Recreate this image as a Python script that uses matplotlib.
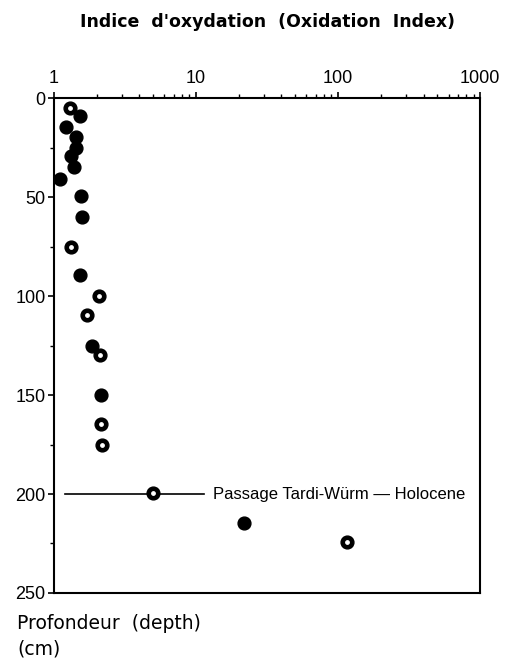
import matplotlib.pyplot as plt
from matplotlib.ticker import FixedLocator, LogLocator, NullFormatter

# oxidation index vs depth (cm)
solid_x = [1.54, 1.21, 1.44, 1.44, 1.31, 1.39, 1.11, 1.56, 1.57, 1.52, 1.85, 2.14, 21.8]
solid_depth = [9, 14.5, 19.5, 25, 29, 35, 41, 49.5, 60, 89.5, 125, 150, 214.8]
open_x = [1.30, 1.31, 2.08, 1.71, 2.11, 2.13, 2.20, 5.0, 115]
open_depth = [5, 75, 100, 109.6, 129.6, 164.6, 175, 199.6, 224]

boundary_depth = 200
boundary_x = [1.19, 11.4]
boundary_label = "Passage Tardi-Würm — Holocene"

xticks = [1, 10, 100, 1000]
yticks = [0, 50, 100, 150, 200, 250]

plt.rcParams['font.family'] = ['Liberation Sans', 'DejaVu Sans']

fig = plt.figure(figsize=(5.08, 6.72), dpi=100)
ax = fig.add_axes([0.106, 0.1176, 0.839, 0.7364])

ax.set_xscale('log')
ax.set_xlim(1, 1000)
ax.set_ylim(250, 0)

ax.plot(boundary_x, [boundary_depth, boundary_depth], color='black', lw=1.2, zorder=1)
ax.text(13.2, boundary_depth, boundary_label, fontsize=12, va='center', ha='left')

ax.scatter(solid_x, solid_depth, s=85, color='black', zorder=3)
ax.scatter(open_x, open_depth, s=85, color='black', zorder=3)
ax.scatter(open_x, open_depth, s=6, color='white', zorder=4)

ax.xaxis.tick_top()
ax.set_xticks(xticks)
ax.set_xticklabels([str(v) for v in xticks])
ax.xaxis.set_minor_locator(LogLocator(base=10, subs=range(2, 10)))
ax.xaxis.set_minor_formatter(NullFormatter())
ax.set_yticks(yticks)
ax.yaxis.set_minor_locator(FixedLocator([25, 75, 125, 175, 225]))

ax.tick_params(axis='x', which='major', direction='out', length=4, width=1.2,
               labelsize=13, pad=4)
ax.tick_params(axis='x', which='minor', direction='out', length=3, width=1)
ax.tick_params(axis='y', which='major', direction='out', length=4, width=1.2,
               labelsize=13, pad=2)
ax.tick_params(axis='y', which='minor', direction='out', length=3, width=1)

for sp in ax.spines.values():
    sp.set_linewidth(1.5)

fig.text(0.527, 0.968, "Indice  d'oxydation  (Oxidation  Index)", ha='center', va='center',
         fontsize=12.5, fontweight='bold', family='DejaVu Sans')
fig.text(0.034, 0.053, "Profondeur  (depth)\n(cm)", ha='left', va='center',
         fontsize=13.5, linespacing=1.45, family='DejaVu Sans')

fig.savefig('out.png', dpi=100)
